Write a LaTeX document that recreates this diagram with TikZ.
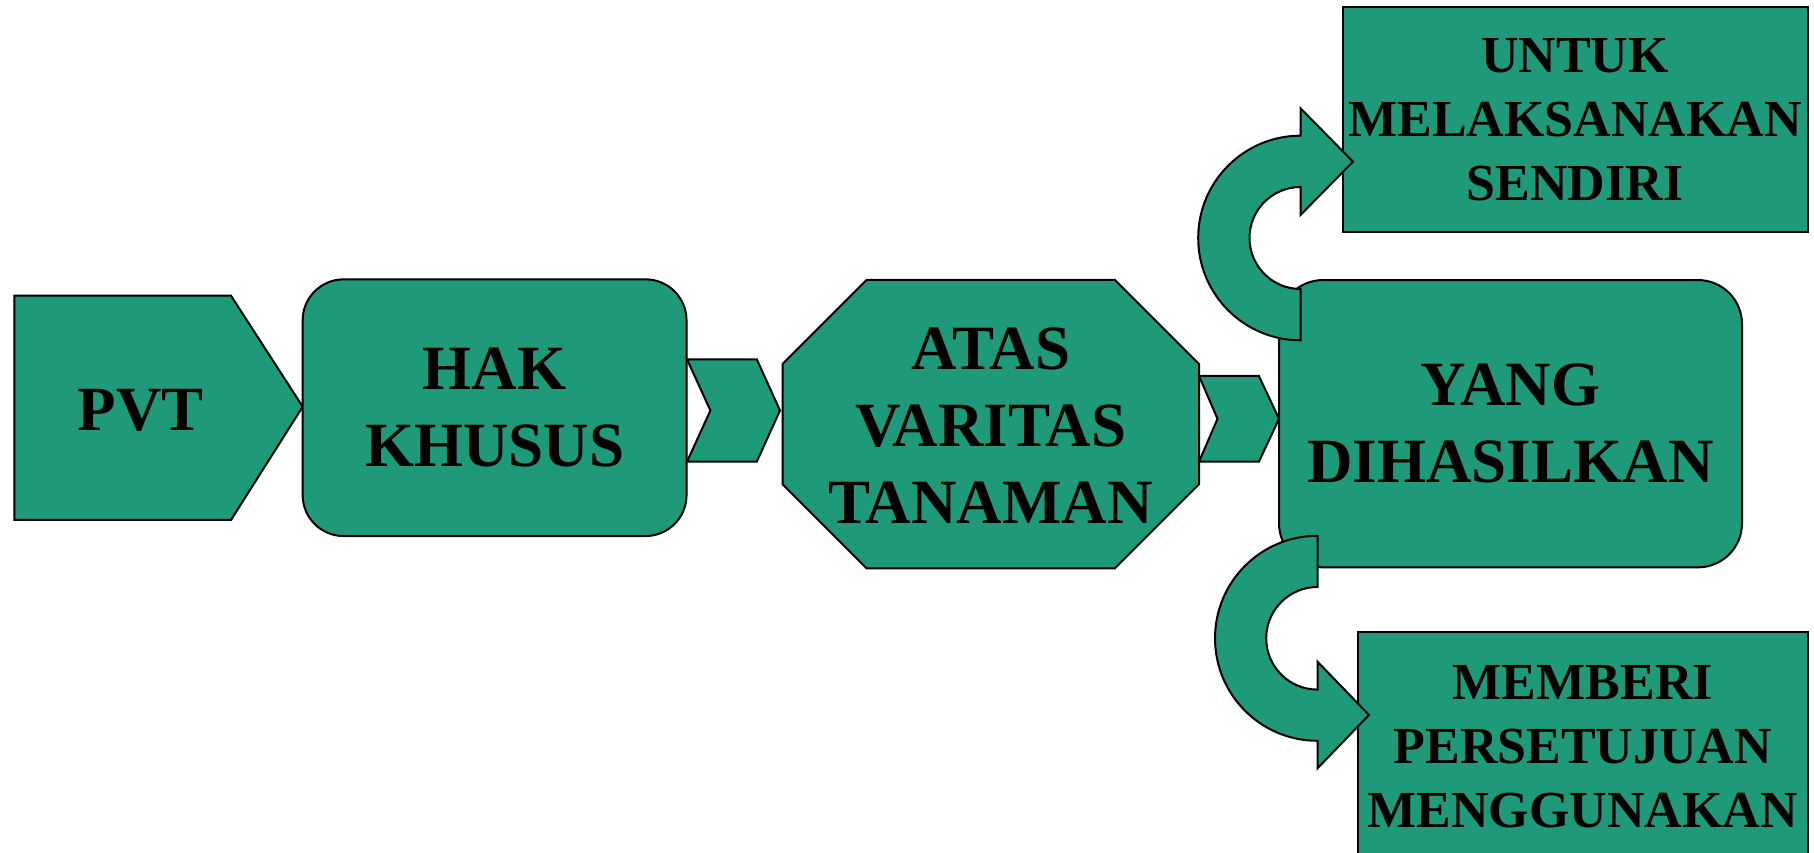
\documentclass[tikz,border=0pt]{standalone}
\usepackage{fontspec}
\setmainfont{Liberation Serif}
\definecolor{pvtgreen}{RGB}{30,154,122}
\tikzset{
  greenshape/.style={fill=pvtgreen, draw=black, line width=2bp},
  bigtext/.style={font=\fontsize{63bp}{77bp}\selectfont\bfseries, align=center, inner sep=0pt},
  smalltext/.style={font=\fontsize{52bp}{64bp}\selectfont\bfseries, align=center, inner sep=0pt},
}
\begin{document}
\begin{tikzpicture}[line join=miter]
  \useasboundingbox (0,0) rectangle (1814bp,853bp);
%%
  % Node: PVT
  \filldraw[greenshape] (14.3bp,557.3bp) -- (231bp,557.3bp) -- (302.7bp,446.3bp) -- (231bp,333bp) -- (14.3bp,333bp) -- cycle;
  \node[bigtext] (pvt) at (140.6bp,443bp) {PVT};
  % Node: HAK
  \node[greenshape, bigtext, rounded corners=41bp, minimum width=383.9bp, minimum height=256.7bp] (hak) at (494.6bp,445.3bp) {HAK\\KHUSUS};
  % Edge: HAK -> ATAS
  \filldraw[greenshape] (687bp,493.7bp) -- (756.8bp,493.7bp) -- (780bp,442.5bp) -- (756.8bp,391.3bp) -- (687bp,391.3bp) -- (710.4bp,442.5bp) -- cycle;
  % Node: ATAS
  \filldraw[greenshape] (866.5bp,573bp) -- (1115bp,573bp) -- (1199bp,489bp) -- (1199bp,368.7bp) -- (1115bp,284.7bp) -- (866.5bp,284.7bp) -- (782.5bp,368.7bp) -- (782.5bp,489bp) -- cycle;
  \node[bigtext] (atas) at (990.7bp,427bp) {ATAS\\VARITAS\\TANAMAN};
  % Edge: ATAS -> YANG
  \filldraw[greenshape] (1199bp,477bp) -- (1258.9bp,477bp) -- (1279bp,434.2bp) -- (1258.9bp,391.3bp) -- (1199bp,391.3bp) -- (1217.5bp,434.2bp) -- cycle;
  % Node: YANG
  \node[greenshape, bigtext, rounded corners=44bp, minimum width=463bp, minimum height=287.3bp] (yang) at (1510.5bp,429.3bp) {YANG\\DIHASILKAN};
  % Node: UNTUK
  \node[greenshape, smalltext, minimum width=465bp, minimum height=225bp] (untuk) at (1575.1bp,733.2bp) {UNTUK\\MELAKSANAKAN\\SENDIRI};
  % Node: MEMBERI
  \node[greenshape, smalltext, minimum width=449.6bp, minimum height=230bp] (memberi) at (1582.8bp,106.3bp) {MEMBERI\\PERSETUJUAN\\MENGGUNAKAN};
  % Edge: YANG -> UNTUK
  \filldraw[greenshape] (1300.5bp,512.7bp) arc[start angle=270, end angle=90, radius=102.3bp] -- (1300.5bp,744.7bp) -- (1353bp,691.3bp) -- (1300.5bp,638bp) -- (1300.5bp,666bp) arc[start angle=90, end angle=270, radius=51bp] -- cycle;
  % Edge: YANG -> MEMBERI
  \filldraw[greenshape] (1317.5bp,317.2bp) arc[start angle=90, end angle=270, radius=102.5bp] -- (1317.5bp,84.7bp) -- (1369bp,138bp) -- (1317.5bp,191.3bp) -- (1317.5bp,163.4bp) arc[start angle=270, end angle=90, radius=51.3bp] -- cycle;
%
\end{tikzpicture}
\end{document}
